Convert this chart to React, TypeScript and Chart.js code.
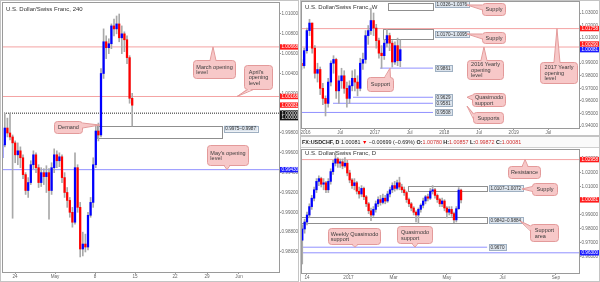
import React, { useEffect, useRef } from "react";
import { Chart, registerables } from "chart.js";
Chart.register(...registerables);

const FONT = "'Liberation Sans', Arial, 'DejaVu Sans', sans-serif";
const UP = "#0000ff";
const DOWN = "#ff0000";
const WICK = "#a9a9a9";
const RED_LINE = "#f4a3a3";
const BLUE_LINE = "#9090ff";
const BUBBLE_FILL = "#f7c8c8";
const BUBBLE_STROKE = "#e39a9a";

// ================= H4 panel (left) =================
const h4Title = "U.S. Dollar/Swiss Franc, 240";
const h4FirstDay = -1.6; // trading day of the first bar (0 = 24 Apr)
const h4BarDays = 0.325;
const h4FirstOpen = 0.9955;
const h4Close = [
  0.9968, 0.9985, 0.998, 0.9976, 0.997, 0.9958, 0.9962, 0.9955, 0.9938, 0.9922,
  0.993, 0.9948, 0.9958, 0.9945, 0.993, 0.994, 0.9936, 0.994, 0.9922, 0.9945,
  0.9958, 0.9952, 0.9956, 0.9935, 0.992, 0.9912, 0.99, 0.989, 0.9945, 0.9905,
  0.9863, 0.9868, 0.9865, 0.9897, 0.991, 0.9948, 0.9982, 0.9978, 1.004, 1.0072,
  1.0066, 1.007, 1.0088, 1.0085, 1.009, 1.0076, 1.008, 1.0074, 1.0056, 1.0015,
  1.0008,
];
const h4High = [
  0.9972, 1.0, 0.9995, 1.0, 0.9978, 0.9972, 0.997, 0.9966, 0.9958, 0.994,
  0.9935, 0.9952, 0.9962, 0.996, 0.9948, 0.9945, 0.9944, 0.9947, 0.9944, 0.995,
  0.9964, 0.9962, 0.996, 0.9958, 0.994, 0.9925, 0.9915, 0.9905, 0.996, 0.9948,
  0.991, 0.988, 0.9878, 0.99, 0.9915, 0.9955, 0.9988, 0.999, 1.0045, 1.0085,
  1.0078, 1.0075, 1.009, 1.0095, 1.0098, 1.01, 1.0088, 1.0082, 1.0078, 1.0058,
  1.002,
];
const h4Low = [
  0.9952, 0.9966, 0.9976, 0.9973, 0.9894, 0.995, 0.9948, 0.9945, 0.9934, 0.9918,
  0.9915, 0.9928, 0.9944, 0.994, 0.9925, 0.9926, 0.9928, 0.992, 0.9893, 0.9918,
  0.994, 0.9945, 0.9946, 0.993, 0.9915, 0.9905, 0.9895, 0.9885, 0.9888, 0.99,
  0.9855, 0.9856, 0.986, 0.9862, 0.9895, 0.9905, 0.9945, 0.9972, 0.9976, 1.0035,
  1.0055, 1.006, 1.0065, 1.0078, 1.008, 1.0072, 1.006, 1.0062, 1.005, 1.001,
  0.9987,
];
const h4DayTicks = [0, 5, 10, 15, 20, 24, 28];
const h4DayLabels = ["24", "May", "8", "15", "22", "29", "Jun"];
const h4PriceTicks = [0.986, 0.988, 0.99, 0.992, 0.994, 0.996, 0.998, 1.0, 1.002, 1.004, 1.006, 1.008, 1.01];
const h4MarchOpen = 1.00668;
const h4AprilOpen = 1.00168;
const h4MayOpen = 0.9943;
const h4Parity = 1.0;
const h4LastPrice = 1.00081;
const h4Demand = [0.9975, 0.9987];

// ================= Weekly panel (top right) =================
const wTitle = "U.S. Dollar/Swiss Franc, W";
const wFirstWeek = -3; // weeks from 1 Jan 2016
const wBarWeeks = 2;
const wFirstOpen = 0.99;
const wClose = [
  0.988, 1.0, 1.016, 1.022, 1.002, 0.982, 0.985, 0.97, 0.962, 0.958,
  0.975, 0.99, 0.993, 0.968, 0.976, 0.98, 0.97, 0.962, 0.972, 0.978,
  0.975, 0.97, 0.99, 0.993, 1.012, 1.016, 1.024, 1.018, 1.008, 0.998,
  0.996, 1.006, 1.012, 1.006, 0.991, 1.004, 0.992, 1.0008,
];
const wHigh = [
  0.993, 1.002, 1.018, 1.025, 1.022, 1.004, 0.99, 0.987, 0.974, 0.964,
  0.978, 0.992, 0.996, 0.994, 0.98, 0.986, 0.984, 0.975, 0.976, 0.984,
  0.985, 0.98, 0.994, 0.998, 1.016, 1.02, 1.034, 1.03, 1.021, 1.01,
  1.004, 1.009, 1.017, 1.014, 1.008, 1.007, 1.01, 1.0086,
];
const wLow = [
  0.985, 0.986, 0.998, 1.012, 0.998, 0.978, 0.975, 0.965, 0.957, 0.948,
  0.955, 0.972, 0.982, 0.962, 0.958, 0.97, 0.966, 0.955, 0.958, 0.968,
  0.968, 0.964, 0.968, 0.985, 0.99, 1.005, 1.013, 1.012, 1.002, 0.994,
  0.986, 0.993, 1.003, 1.0, 0.987, 0.989, 0.988, 0.9872,
];
const wWeekTicks = [0, 26, 52, 78, 104, 130, 156, 182];
const wWeekLabels = ["2016", "Jul", "2017", "Jul", "2018", "Jul", "2019", "Jul"];
const wPriceTicks = [0.94, 0.95, 0.96, 0.97, 0.98, 0.99, 1.0, 1.01, 1.02, 1.03];
const wOpen2017 = 1.01758;
const wOpen2016 = 1.0029;
const wSupplyHigh = [1.0326, 1.0376];
const wSupplyLow = [1.0095, 1.017];
const wSupports = [0.9861, 0.9629, 0.9581, 0.9508];

// ================= Daily panel (bottom right) =================
const dTitle = "U.S. Dollar/Swiss Franc, D";
const dFirstDay = -4; // trading days from 14 Nov 2016
const dBarDays = 2;
const dFirstOpen = 0.972;
const dClose = [
  0.98, 0.985, 0.99, 0.996, 1.002, 1.008, 1.014, 1.016, 1.012, 1.013,
  1.008, 1.014, 1.021, 1.027, 1.03, 1.027, 1.028, 1.025, 1.027, 1.02,
  1.015, 1.011, 1.013, 1.007, 1.005, 1.009, 1.003, 0.998, 0.993, 0.99,
  0.994, 0.998, 1.001, 0.999, 1.002, 1.0, 1.005, 1.008, 1.011, 1.009,
  1.013, 1.01, 1.008, 1.006, 1.001, 0.998, 0.995, 0.992, 0.99, 0.994,
  0.997, 1.0, 1.003, 1.002, 1.007, 1.008, 1.004, 1.001, 0.998, 1.0,
  0.995, 0.992, 0.994, 0.991, 0.9865, 0.9945, 1.0078, 1.0008,
];
const dHigh = [
  0.983, 0.987, 0.992, 0.998, 1.004, 1.01, 1.016, 1.018, 1.017, 1.016,
  1.014, 1.016, 1.023, 1.029, 1.0343, 1.031, 1.03, 1.03, 1.031, 1.029,
  1.022, 1.016, 1.016, 1.014, 1.01, 1.011, 1.01, 1.004, 0.999, 0.995,
  0.996, 1.0, 1.003, 1.004, 1.005, 1.004, 1.007, 1.01, 1.013, 1.014,
  1.015, 1.017, 1.012, 1.01, 1.007, 1.002, 0.999, 0.996, 0.993, 0.995,
  0.998, 1.002, 1.004, 1.005, 1.009, 1.011, 1.009, 1.005, 1.002, 1.002,
  1.001, 0.996, 0.996, 0.996, 0.992, 0.996, 1.0095, 1.0086,
];
const dLow = [
  0.955, 0.977, 0.983, 0.988, 0.994, 1.0, 1.006, 1.011, 1.01, 1.008,
  1.006, 1.006, 1.012, 1.019, 1.025, 1.024, 1.024, 1.023, 1.024, 1.018,
  1.013, 1.009, 1.008, 1.005, 1.002, 1.003, 1.001, 0.996, 0.991, 0.986,
  0.989, 0.992, 0.996, 0.997, 0.998, 0.998, 0.999, 1.003, 1.006, 1.007,
  1.008, 1.008, 1.006, 1.004, 0.999, 0.996, 0.993, 0.99, 0.985, 0.984,
  0.992, 0.995, 0.998, 1.0, 1.001, 1.005, 1.002, 0.999, 0.996, 0.996,
  0.993, 0.988, 0.99, 0.989, 0.9845, 0.985, 0.994, 0.9987,
];
const dDayTicks = [0, 35, 73, 118, 165, 210];
const dDayLabels = ["14", "2017", "Mar", "May", "Jul", "Sep"];
const dPriceTicks = [0.96, 0.97, 0.98, 0.99, 1.0, 1.01, 1.02, 1.03];
const dResistance = 1.02958;
const dSupply = [1.0072, 1.0107];
const dSupportArea = [0.9842, 0.9884];
const dWeeklyQM = 0.967;
const dLowerLevel = 0.963;
const dInfoSymbol = "FX:USDCHF, D";
const dInfoLast = "1.00081";
const dInfoChange = "\u22120.00699 (\u22120.69%)";
const dInfoOHLC = [
  ["O:", "1.00780"],
  ["H:", "1.00857"],
  ["L:", "0.99872"],
  ["C:", "1.00081"],
];

// ================= helpers =================
type Callout = { x: number; y: number; dx: number; dy: number; w: number; h: number; lines: string[]; side?: string };
type Tag = { v: number; text: string; bg: string; dy?: number };
type Zone = { x1: number; x2: number; y1: number; y2: number };
type ZLabel = { x: number; v: number; text: string };
type Spec = {
  title: string;
  titleY: number;
  zones: Zone[];
  zLabels: ZLabel[];
  callouts: Callout[];
  tags: Tag[];
  info?: boolean;
};

const AXIS_FONT = 4.6;

function candles(first: number, step: number, open0: number, close: number[], high: number[], low: number[]) {
  const out: { x: number; o: number; h: number; l: number; c: number }[] = [];
  let o = open0;
  for (let i = 0; i < close.length; i++) {
    out.push({ x: first + i * step, o, h: high[i], l: low[i], c: close[i] });
    o = close[i];
  }
  return out;
}

function candleSets(cs: ReturnType<typeof candles>, body: number) {
  return [
    {
      type: "bar",
      data: cs.map((k) => ({ x: k.x, y: [Math.min(k.o, k.c), Math.max(k.o, k.c)] })),
      backgroundColor: cs.map((k) => (k.c >= k.o ? UP : DOWN)),
      barThickness: body,
      minBarLength: 1,
      grouped: false,
      borderWidth: 0,
      order: 0,
    },
    {
      type: "bar",
      data: cs.map((k) => ({ x: k.x, y: [k.l, k.h] })),
      backgroundColor: WICK,
      barThickness: 1,
      grouped: false,
      borderWidth: 0,
      order: 1,
    },
  ];
}

function hline(x1: number, x2: number, v: number, color: string, dash: number[] = []) {
  return {
    type: "line",
    data: [
      { x: x1, y: v },
      { x: x2, y: v },
    ],
    borderColor: color,
    borderWidth: 1,
    borderDash: dash,
    pointRadius: 0,
    fill: false,
    order: 3,
  };
}

function roundRect(ctx: CanvasRenderingContext2D, x: number, y: number, w: number, h: number, r: number) {
  ctx.beginPath();
  ctx.moveTo(x + r, y);
  ctx.lineTo(x + w - r, y);
  ctx.arcTo(x + w, y, x + w, y + r, r);
  ctx.lineTo(x + w, y + h - r);
  ctx.arcTo(x + w, y + h, x + w - r, y + h, r);
  ctx.lineTo(x + r, y + h);
  ctx.arcTo(x, y + h, x, y + h - r, r);
  ctx.lineTo(x, y + r);
  ctx.arcTo(x, y, x + r, y, r);
  ctx.closePath();
}

function makeAnnot(spec: Spec) {
  return {
    id: "annot",
    beforeDatasetsDraw(chart: any) {
      const ctx: CanvasRenderingContext2D = chart.ctx;
      const sx = chart.scales.x, sy = chart.scales.y;
      const a = chart.chartArea;
      ctx.save();
      ctx.beginPath();
      ctx.rect(a.left, a.top, a.right - a.left, a.bottom - a.top);
      ctx.clip();
      ctx.strokeStyle = "#8f8f8f";
      ctx.lineWidth = 1;
      for (const z of spec.zones) {
        const x1 = Math.round(sx.getPixelForValue(z.x1)) + 0.5;
        const x2 = Math.round(sx.getPixelForValue(z.x2)) + 0.5;
        const y1 = Math.round(sy.getPixelForValue(z.y2)) + 0.5;
        const y2 = Math.round(sy.getPixelForValue(z.y1)) + 0.5;
        ctx.strokeRect(x1, y1, x2 - x1, y2 - y1);
      }
      ctx.restore();
    },
    afterDatasetsDraw(chart: any) {
      const ctx: CanvasRenderingContext2D = chart.ctx;
      const sx = chart.scales.x, sy = chart.scales.y;
      ctx.save();
      ctx.font = `${AXIS_FONT}px ${FONT}`;
      ctx.textBaseline = "middle";
      for (const l of spec.zLabels) {
        const x = sx.getPixelForValue(l.x);
        const y = sy.getPixelForValue(l.v);
        const w = ctx.measureText(l.text).width + 3;
        ctx.fillStyle = "#dce4ed";
        ctx.fillRect(x, y - 3, w, 6);
        ctx.strokeStyle = "#9fb0c2";
        ctx.strokeRect(Math.round(x) + 0.5, Math.round(y - 3) + 0.5, Math.round(w), 6);
        ctx.fillStyle = "#333";
        ctx.fillText(l.text, x + 1.5, y + 0.3);
      }
      for (const c of spec.callouts) {
        const tx = sx.getPixelForValue(c.x), ty = sy.getPixelForValue(c.y);
        const bx = Math.round(tx + c.dx) + 0.5, by = Math.round(ty + c.dy) + 0.5;
        const bw = c.w, bh = c.h;
        let side = c.side;
        if (!side) side = ty < by ? "top" : ty > by + bh ? "bottom" : tx > bx + bw ? "right" : "left";
        let p1: number[], p2: number[], q1: number[], q2: number[];
        if (side === "top" || side === "bottom") {
          const cx = Math.min(Math.max(tx, bx + 6), bx + bw - 6);
          const yy = side === "top" ? by : by + bh;
          const inn = side === "top" ? 1.2 : -1.2;
          p1 = [cx - 3, yy]; p2 = [cx + 3, yy];
          q1 = [cx - 3, yy + inn]; q2 = [cx + 3, yy + inn];
        } else {
          const cy = Math.min(Math.max(ty, by + 4), by + bh - 4);
          const xx = side === "left" ? bx : bx + bw;
          const inn = side === "left" ? 1.2 : -1.2;
          p1 = [xx, cy - 2.5]; p2 = [xx, cy + 2.5];
          q1 = [xx + inn, cy - 2.5]; q2 = [xx + inn, cy + 2.5];
        }
        ctx.fillStyle = BUBBLE_FILL;
        ctx.strokeStyle = BUBBLE_STROKE;
        ctx.lineWidth = 1;
        roundRect(ctx, bx, by, bw, bh, 3);
        ctx.fill();
        ctx.stroke();
        ctx.beginPath();
        ctx.moveTo(q1[0], q1[1]);
        ctx.lineTo(tx, ty);
        ctx.lineTo(q2[0], q2[1]);
        ctx.closePath();
        ctx.fill();
        ctx.beginPath();
        ctx.moveTo(p1[0], p1[1]);
        ctx.lineTo(tx, ty);
        ctx.lineTo(p2[0], p2[1]);
        ctx.stroke();
        ctx.fillStyle = "#3a3a3a";
        ctx.font = `5.5px ${FONT}`;
        const lh = 5.6;
        const maxW = Math.max(...c.lines.map((s) => ctx.measureText(s).width));
        const x0 = bx + (bw - maxW) / 2;
        const y0 = by + bh / 2 - (c.lines.length * lh) / 2 + lh / 2;
        c.lines.forEach((s, i) => ctx.fillText(s, x0, y0 + i * lh + 0.3));
      }
      ctx.restore();
    },
    afterDraw(chart: any) {
      const ctx: CanvasRenderingContext2D = chart.ctx;
      const sy = chart.scales.y;
      const a = chart.chartArea;
      ctx.save();
      // chart area frame
      ctx.strokeStyle = "#9a9a9a";
      ctx.lineWidth = 1;
      ctx.strokeRect(Math.round(a.left) + 0.5, Math.round(a.top) + 0.5, Math.round(a.right - a.left), Math.round(a.bottom - a.top));
      // price tags on the axis
      ctx.font = `${AXIS_FONT}px ${FONT}`;
      ctx.textBaseline = "middle";
      for (const t of spec.tags) {
        const y = sy.getPixelForValue(t.v) + (t.dy || 0);
        const x0 = Math.round(a.right) + 1;
        ctx.fillStyle = t.bg;
        ctx.fillRect(x0, y - 2.7, chart.width - x0 - 1, 5.4);
        ctx.fillStyle = "#fff";
        ctx.fillText(t.text, x0 + 1.5, y + 0.3);
      }
      // title
      ctx.fillStyle = "#333";
      ctx.font = `6px ${FONT}`;
      ctx.textBaseline = "middle";
      ctx.fillText(spec.title, a.left + 4, spec.titleY);
      if (spec.info) {
        ctx.fillStyle = "#fafafa";
        ctx.fillRect(1, 1, chart.width - 2, 10);
        ctx.strokeStyle = "#d0d0d0";
        ctx.beginPath();
        ctx.moveTo(0, 11.5);
        ctx.lineTo(chart.width, 11.5);
        ctx.stroke();
        let x = 2;
        const y = 6.5;
        const seg = (s: string, color: string, bold = false) => {
          ctx.font = `${bold ? "bold " : ""}5.4px ${FONT}`;
          ctx.fillStyle = color;
          ctx.fillText(s, x, y);
          x += ctx.measureText(s).width;
        };
        seg(dInfoSymbol + " ", "#222", true);
        seg(dInfoLast + " ", "#222");
        seg("\u25BC ", DOWN);
        seg(dInfoChange + " ", "#222");
        for (const [k, v] of dInfoOHLC) {
          seg(k, "#222", true);
          seg(v + " ", "#d03030");
        }
      }
      // panel frame
      ctx.strokeStyle = "#c4c4c4";
      ctx.strokeRect(0.5, 0.5, chart.width - 1, chart.height - 1);
      ctx.restore();
    },
  };
}

function axes(
  xMin: number, xMax: number, xTicks: number[], xLabels: string[], xH: number,
  yMin: number, yMax: number, yTicks: number[], yW: number
) {
  const tickFont = { family: FONT, size: AXIS_FONT };
  return {
    x: {
      type: "linear",
      min: xMin,
      max: xMax,
      offset: false,
      afterBuildTicks: (s: any) => {
        s.ticks = xTicks.map((v) => ({ value: v }));
      },
      afterFit: (s: any) => {
        s.height = xH;
        s.paddingLeft = 0;
        s.paddingRight = 0;
      },
      ticks: {
        autoSkip: false,
        maxRotation: 0,
        padding: 0,
        color: "#666",
        font: tickFont,
        callback: (_v: any, i: number) => xLabels[i],
      },
      grid: { display: true, drawOnChartArea: false, tickLength: 2, color: "#999", offset: false },
      border: { color: "#9a9a9a" },
    },
    y: {
      type: "linear",
      position: "right",
      min: yMin,
      max: yMax,
      afterBuildTicks: (s: any) => {
        s.ticks = yTicks.map((v) => ({ value: v }));
      },
      afterFit: (s: any) => {
        s.width = yW;
        s.paddingTop = 0;
        s.paddingBottom = 0;
      },
      ticks: {
        padding: 0.5,
        color: "#666",
        font: tickFont,
        callback: (v: any) => Number(v).toFixed(5),
      },
      grid: { display: true, drawOnChartArea: false, tickLength: 2, color: "#999" },
      border: { color: "#9a9a9a" },
    },
  };
}

function baseOptions(padding: any, scales: any) {
  return {
    responsive: false,
    animation: false,
    devicePixelRatio: 1,
    layout: { padding },
    plugins: { legend: { display: false }, tooltip: { enabled: false } },
    scales,
  };
}

export default function App() {
  const leftRef = useRef<HTMLCanvasElement>(null);
  const wRef = useRef<HTMLCanvasElement>(null);
  const dRef = useRef<HTMLCanvasElement>(null);

  useEffect(() => {
    const charts: Chart[] = [];

    // ---------- H4 ----------
    const h4Min = -1.625, h4Max = 33;
    const h4c = candles(h4FirstDay, h4BarDays, h4FirstOpen, h4Close, h4High, h4Low);
    const h4Spec: Spec = {
      title: h4Title,
      titleY: 9,
      zones: [{ x1: 10.25, x2: 25.9, y1: h4Demand[0], y2: h4Demand[1] }],
      zLabels: [{ x: 26.1, v: 0.99845, text: "0.9975\u20130.9987" }],
      callouts: [
        { x: 24.75, y: h4MarchOpen, dx: -20, dy: 13, w: 42, h: 18, lines: ["March opening", "level"] },
        { x: 27.75, y: h4AprilOpen, dx: 7, dy: -31, w: 28, h: 24, lines: ["April's", "opening", "level"] },
        { x: 10.6, y: 0.9988, dx: -46, dy: -4, w: 28, h: 12, lines: ["Demand"] },
        { x: 26.5, y: h4MayOpen, dx: -20, dy: -25, w: 41, h: 20, lines: ["May's opening", "level"] },
      ],
      tags: [
        { v: h4MarchOpen, text: "1.00668", bg: "#ff1a1a" },
        { v: h4AprilOpen, text: "1.00168", bg: "#ff1a1a" },
        { v: h4LastPrice, text: "1.00081", bg: "#ff1a1a" },
        { v: h4Parity, text: "1.00000", bg: "#111" },
        { v: h4Parity, text: "1.00000", bg: "#111", dy: 4.5 },
        { v: h4MayOpen, text: "0.99430", bg: "#1a1aff" },
      ],
    };
    charts.push(
      new Chart(leftRef.current!, {
        type: "bar",
        data: {
          datasets: [
            ...candleSets(h4c, 1.6),
            hline(h4Min, h4Max, h4MarchOpen, RED_LINE),
            hline(h4Min, h4Max, h4AprilOpen, RED_LINE),
            hline(h4Min, h4Max, h4Parity, "#222", [1, 1]),
            hline(h4Min, h4Max, h4MayOpen, BLUE_LINE),
          ] as any,
        },
        options: baseOptions(
          { left: 2, top: 2, right: 0, bottom: 0 },
          axes(h4Min, h4Max, h4DayTicks, h4DayLabels, 10, 0.98398, 1.01121, h4PriceTicks, 20)
        ) as any,
        plugins: [makeAnnot(h4Spec)],
      })
    );

    // ---------- Weekly ----------
    const wMin = -3.37, wMax = 204.9;
    const wc = candles(wFirstWeek, wBarWeeks, wFirstOpen, wClose, wHigh, wLow);
    const wLineEnd = 95.5;
    const wSpec: Spec = {
      title: wTitle,
      titleY: 7,
      zones: [
        { x1: 62, x2: wLineEnd, y1: wSupplyHigh[0], y2: wSupplyHigh[1] },
        { x1: 58, x2: wLineEnd, y1: wSupplyLow[0], y2: wSupplyLow[1] },
      ],
      zLabels: [
        { x: 97, v: 1.0372, text: "1.0326\u20131.0376" },
        { x: 97, v: 1.0133, text: "1.0170\u20131.0095" },
        { x: 97, v: wSupports[0], text: "0.9861" },
        { x: 97, v: wSupports[1], text: "0.9629" },
        { x: 97, v: wSupports[2], text: "0.9581" },
        { x: 97, v: wSupports[3], text: "0.9508" },
      ],
      callouts: [
        { x: 121, y: 1.0364, dx: 15, dy: -2, w: 23, h: 12, lines: ["Supply"] },
        { x: 121, y: 1.0133, dx: 15, dy: -2, w: 23, h: 11, lines: ["Supply"] },
        { x: 133.7, y: wOpen2016, dx: -17, dy: 13, w: 36, h: 19, lines: ["2016 Yearly", "opening", "level"] },
        { x: 188.4, y: wOpen2017, dx: -17, dy: 33, w: 37, h: 21, lines: ["2017 Yearly", "opening", "level"] },
        { x: 121, y: wSupports[1], dx: 5, dy: -4, w: 33, h: 13, lines: ["Quasimodo", "support"] },
        { x: 121, y: 0.9559, dx: 6, dy: 6, w: 30, h: 11, lines: ["Supports"], side: "left" },
        { x: 63.3, y: wSupports[0], dx: -23, dy: 9, w: 26, h: 14, lines: ["Support"] },
      ],
      tags: [
        { v: wOpen2017, text: "1.01758", bg: "#ff1a1a" },
        { v: wOpen2016, text: "1.00290", bg: "#ff1a1a", dy: -3 },
        { v: h4LastPrice, text: "1.00081", bg: "#1a1aff" },
      ],
    };
    charts.push(
      new Chart(wRef.current!, {
        type: "bar",
        data: {
          datasets: [
            ...candleSets(wc, 1.7),
            hline(wMin, wMax, wOpen2017, RED_LINE),
            hline(wMin, wMax, wOpen2016, RED_LINE),
            hline(55.8, wLineEnd, wSupports[0], BLUE_LINE),
            hline(35.6, wLineEnd, wSupports[1], BLUE_LINE),
            hline(20.6, wLineEnd, wSupports[2], BLUE_LINE),
            hline(wMin, wLineEnd, wSupports[3], BLUE_LINE),
          ] as any,
        },
        options: baseOptions(
          { left: 1, top: 1, right: 0, bottom: 0 },
          axes(wMin, wMax, wWeekTicks, wWeekLabels, 8, 0.93841, 1.03956, wPriceTicks, 21)
        ) as any,
        plugins: [makeAnnot(wSpec)],
      })
    );

    // ---------- Daily ----------
    const dMin = -5.06, dMax = 229.5;
    const dc = candles(dFirstDay, dBarDays, dFirstOpen, dClose, dHigh, dLow);
    const dZoneEnd = 152;
    const dSpec: Spec = {
      title: dTitle,
      titleY: 17,
      info: true,
      zones: [
        { x1: 85, x2: dZoneEnd, y1: dSupply[0], y2: dSupply[1] },
        { x1: dMin, x2: dZoneEnd, y1: dSupportArea[0], y2: dSupportArea[1] },
      ],
      zLabels: [
        { x: 153.5, v: 1.00895, text: "1.0107\u20131.0072" },
        { x: 153.5, v: 0.9863, text: "0.9842\u20130.9884" },
        { x: 153.5, v: dWeeklyQM, text: "0.9670" },
      ],
      callouts: [
        { x: 184, y: dResistance, dx: -17, dy: 6, w: 32, h: 12, lines: ["Resistance"] },
        { x: 181.4, y: 1.0086, dx: 10, dy: -6, w: 25, h: 12, lines: ["Supply"], side: "left" },
        { x: 179.7, y: 0.9857, dx: 10, dy: 3, w: 28, h: 17, lines: ["Support", "area"], side: "left" },
        { x: 40.5, y: dWeeklyQM, dx: -27, dy: -19, w: 52, h: 16, lines: ["Weekly Quasimodo", "support"] },
        { x: 91.1, y: dWeeklyQM, dx: -18, dy: -21, w: 35, h: 17, lines: ["Quasimodo", "support"] },
      ],
      tags: [
        { v: dResistance, text: "1.02958", bg: "#ff1a1a" },
        { v: h4LastPrice, text: "1.00081", bg: "#ff1a1a" },
        { v: dLowerLevel, text: "0.96300", bg: "#1a1aff" },
      ],
    };
    charts.push(
      new Chart(dRef.current!, {
        type: "bar",
        data: {
          datasets: [
            ...candleSets(dc, 1.6),
            hline(dMin, dMax, dResistance, RED_LINE),
            hline(dMin, dZoneEnd, dWeeklyQM, BLUE_LINE),
            hline(dMin, dMax, dLowerLevel, BLUE_LINE),
          ] as any,
        },
        options: baseOptions(
          { left: 1, top: 13, right: 0, bottom: 0 },
          axes(dMin, dMax, dDayTicks, dDayLabels, 9, 0.94857, 1.03714, dPriceTicks, 21)
        ) as any,
        plugins: [makeAnnot(dSpec)],
      })
    );

    return () => charts.forEach((c) => c.destroy());
  }, []);

  return (
    <div style={{ position: "absolute", left: 0, top: 0, width: 600, height: 282, background: "#fff", overflow: "hidden" }}>
      <canvas ref={leftRef} width={299} height={282} style={{ position: "absolute", left: 0, top: 0 }} />
      <canvas ref={wRef} width={300} height={136} style={{ position: "absolute", left: 300, top: 0 }} />
      <canvas ref={dRef} width={300} height={146} style={{ position: "absolute", left: 300, top: 136 }} />
    </div>
  );
}
